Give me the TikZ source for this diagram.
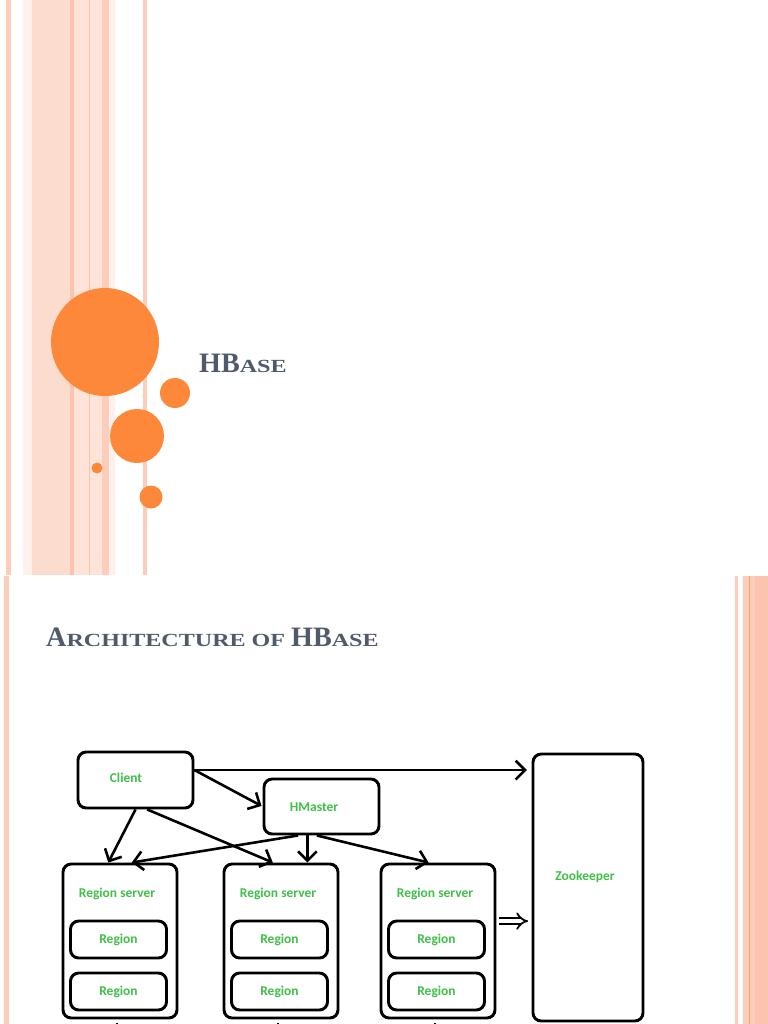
\documentclass[tikz,border=0pt]{standalone}
\usepackage{fontspec}
\setmainfont{Liberation Serif}
\newfontfamily\scfont[FakeStretch=1.3]{Liberation Serif}
\newfontfamily\labelfont{Carlito}
\usetikzlibrary{arrows.meta}

\definecolor{orangedot}{RGB}{253,136,57}
\definecolor{titleslate}{RGB}{80,90,106}
\definecolor{labelgreen}{RGB}{64,192,72}
\definecolor{stripeA}{RGB}{252,205,187}
\definecolor{stripeB}{RGB}{254,240,234}
\definecolor{stripeC}{RGB}{253,220,208}
\definecolor{stripeD}{RGB}{251,196,174}
\definecolor{stripeE}{RGB}{253,227,216}
\definecolor{stripeF}{RGB}{249,160,110}

\newcommand{\tcap}[1]{{\bfseries\fontsize{24}{24}\selectfont #1}}
\newcommand{\tsml}[1]{{\scfont\bfseries\fontsize{15.8}{15.8}\selectfont #1}}

\begin{document}
\begin{tikzpicture}[x=0.03cm, y=-0.03cm,
    box/.style={draw, line width=2.5pt, rounded corners=7pt, inner sep=0pt},
    lbl/.style={font=\labelfont\bfseries\fontsize{11.5}{12}\selectfont, text=labelgreen},
    title/.style={text=titleslate, inner sep=0pt},
    arr/.style={line width=2.2pt, -{Straight Barb[length=8pt, width=16pt]}},
    hollow/.style={line width=1.5pt, double=white, double distance=3.5pt, -{Implies}}
]

\useasboundingbox (0,0) rectangle (768,1024);
\clip (0,0) rectangle (768,1024);
\fill[white] (0,0) rectangle (768,1024);

% Top slide stripes
\foreach \xa/\xb/\c in {6/11/stripeA, 23/32/stripeB, 32/70/stripeC, 70/74/stripeD,
    74/78/stripeE, 78/89/stripeE, 89/90/stripeD, 90/102/stripeE, 102/109/stripeA,
    109/115/stripeB, 143/147/stripeA}{
    \fill[\c] (\xa,0) rectangle (\xb,575);
}

% Bottom slide stripes
\foreach \xa/\xb/\c in {4/9/stripeA, 735/738/stripeA, 743/749/stripeA,
    749/750/stripeF, 750/755/stripeA, 755/768/stripeD}{
    \fill[\c] (\xa,576) rectangle (\xb,1024);
}

% Orange dots
\foreach \x/\y/\r in {105/342/54, 175/393/15, 137/436/27, 97/468/5.5, 151/497/11.5}{
    \fill[orangedot] (\x,\y) circle[radius=\r];
}

% Titles
\node[title, anchor=base west] (hbase) at (199,372) {\tcap{HB}\tsml{ASE}};
\node[title, anchor=base west] (arch) at (46,646)
    {\tcap{A}\tsml{RCHITECTURE OF }\tcap{HB}\tsml{ASE}};

% Client, HMaster and Zookeeper
\node[box, minimum width=3.45cm, minimum height=1.68cm] (client) at (135.5,780) {};
\node[lbl] (clienttxt) at (126,778) {Client};
\node[box, minimum width=3.45cm, minimum height=1.65cm] (hmaster) at (321.5,806.5) {};
\node[lbl] (hmastertxt) at (314,807) {HMaster};
\node[box, minimum width=3.3cm, minimum height=8.01cm] (zk) at (588,887.5) {};
\node[lbl] (zktxt) at (585,877) {Zookeeper};

% Region servers with two regions each
\foreach \i/\x in {1/120, 2/281, 3/438}{
    \node[box, minimum width=3.42cm, minimum height=4.62cm] (rs\i) at (\x,941) {};
    \node[lbl] (rs\i txt) at (\x-3,894) {Region server};
    \node[box, lbl, minimum width=2.88cm, minimum height=1.11cm] (rega\i) at (\x-1.5,939.5) {Region};
    \node[box, lbl, minimum width=2.88cm, minimum height=1.11cm] (regb\i) at (\x-1.5,991.5) {Region};
    \draw[line width=2pt] ([xshift=-2.5pt, yshift=-3pt]rs\i.south) -- ++(0,12);
}

% Connectors
\draw[arr, shorten >=4pt] ([yshift=8.5pt]client.east) -- ([yshift=8.5pt]client.east -| zk.west);
\draw[arr, shorten >=1pt] ([yshift=8.5pt]client.east) -- (hmaster.west);
\draw[arr] (client.south) -- ([xshift=-10pt]rs1.north);
\draw[arr] ([xshift=10pt]client.south) -- ([xshift=-7pt]rs2.north);
\draw[arr] ([xshift=-20pt]hmaster.south) -- ([xshift=10pt]rs1.north);
\draw[arr] ([xshift=-12pt]hmaster.south) -- ([xshift=-12pt]hmaster.south |- rs2.north);
\draw[arr] ([xshift=-4pt]hmaster.south) -- ([xshift=-8pt]rs3.north);
\draw[hollow, shorten <=2pt, shorten >=3pt] ([yshift=17pt]rs3.east) -- ([yshift=17pt]rs3.east -| zk.west);

\end{tikzpicture}
\end{document}
